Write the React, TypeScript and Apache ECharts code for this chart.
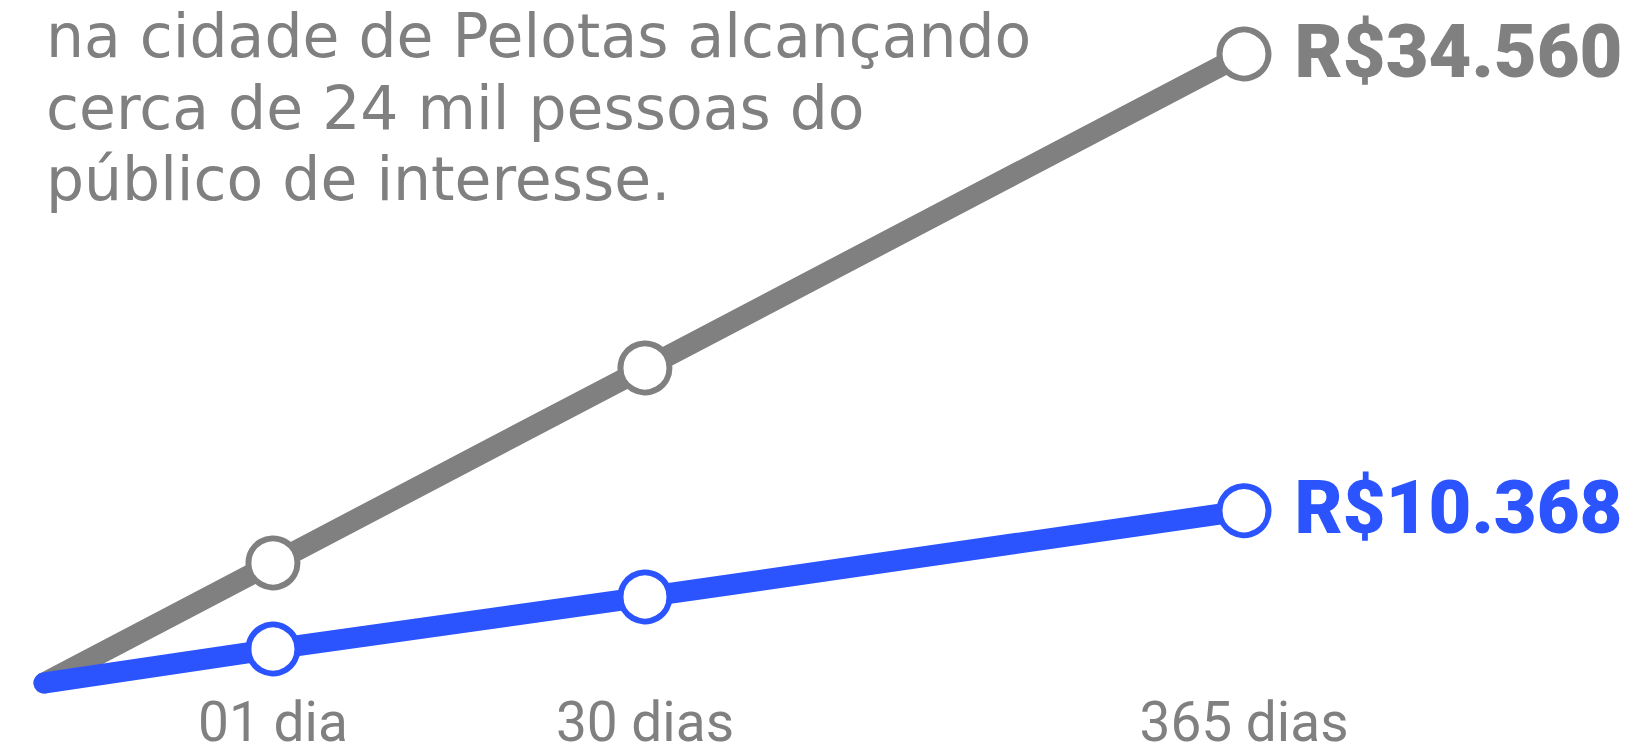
import React, { useEffect, useRef } from "react";
import * as echarts from "echarts";

// Data
const xLabels = ["01 dia", "30 dias", "365 dias"];
const xPositions = [0, 19.08, 50.08, 100]; // start, 01 dia, 30 dias, 365 dias
const grayValues = [1240, 7600, 17930, 34560];
const blueValues = [1240, 3040, 5800, 10368];
const paragraphLines = [
  "na cidade de Pelotas alcançando",
  "cerca de 24 mil pessoas do",
  "público de interesse.",
];

const GRAY = "#808080";
const BLUE = "#2B54FF";

const fmtBRL = (v: number) =>
  "R$" + Math.round(v).toString().replace(/\B(?=(\d{3})+(?!\d))/g, ".");

function buildData(values: number[]) {
  return values.map((v, i) => {
    const item: any = { value: [xPositions[i], v] };
    if (i === 0) item.symbol = "none";
    if (i === values.length - 1) item.label = { show: true };
    return item;
  });
}

export default function App() {
  const ref = useRef<HTMLDivElement>(null);
  useEffect(() => {
    if (!ref.current) return;
    const chart = echarts.init(ref.current, null, { renderer: "svg" });
    const labelMap: Record<string, string> = {};
    xPositions.slice(1).forEach((p, i) => (labelMap[String(p)] = xLabels[i]));

    const mkSeries = (name: string, values: number[], color: string) => ({
      name,
      type: "line",
      data: buildData(values),
      clip: false,
      symbol: "circle",
      symbolSize: 49,
      showAllSymbol: true,
      lineStyle: { color, width: 21, cap: "round", join: "round" },
      itemStyle: { color: "#ffffff", borderColor: color, borderWidth: 6 },
      label: {
        show: false,
        position: "right",
        distance: 23,
        offset: [0, -3],
        formatter: (p: any) => fmtBRL(p.value[1]),
        color,
        fontFamily: "Roboto",
        fontWeight: 900,
        fontSize: 74,
      },
      emphasis: { disabled: true },
      z: name === "blue" ? 3 : 2,
    });

    chart.setOption({
      animation: false,
      grid: { left: 44, right: 395, top: 54, bottom: 70, containLabel: false },
      xAxis: {
        type: "value",
        min: 0,
        max: 100,
        axisLine: { show: false },
        axisTick: { show: false },
        splitLine: { show: false },
        axisLabel: {
          customValues: xPositions.slice(1),
          formatter: (v: number) => labelMap[String(v)] ?? "",
          color: GRAY,
          fontFamily: "Roboto",
          fontSize: 55,
          lineHeight: 40,
          margin: 19,
        },
      },
      yAxis: {
        type: "value",
        min: 1240,
        max: 34560,
        show: false,
      },
      graphic: paragraphLines.map((t, i) => ({
        type: "text",
        x: 46,
        y: 36 + i * 71.5,
        style: {
          text: t,
          x: 0,
          y: 0,
          fill: GRAY,
          font: '60px "DejaVu Sans"',
          lineHeight: 50,
          verticalAlign: "middle",
        },
      })),
      series: [mkSeries("gray", grayValues, GRAY), mkSeries("blue", blueValues, BLUE)],
    });
    return () => chart.dispose();
  }, []);
  return <div ref={ref} style={{ width: 1639, height: 753, margin: -8 }} />;
}
